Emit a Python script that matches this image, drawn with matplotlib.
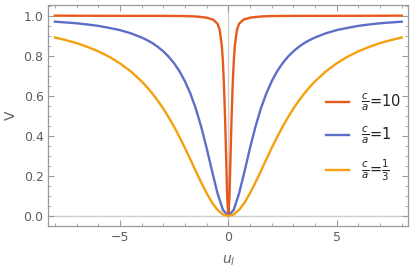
import matplotlib
matplotlib.use('Agg')
import matplotlib.pyplot as plt
from matplotlib.ticker import MultipleLocator

# values
u_grid = [-8, -7.5, -7, -6.5, -6, -5.5, -5, -4.5, -4, -3.75, -3.5, -3.25, -3, -2.75, -2.5, -2.25, -2,
          -1.75, -1.5, -1.25, -1, -0.75, -0.5, -0.25, 0, 0.25, 0.5, 0.75, 1, 1.25, 1.5, 1.75,
          2, 2.25, 2.5, 2.75, 3, 3.25, 3.5, 3.75, 4, 4.5, 5, 5.5, 6, 6.5, 7, 7.5, 8]
v_ca1 = [0.970, 0.966, 0.962, 0.956, 0.949, 0.939, 0.928, 0.912, 0.891, 0.878, 0.863, 0.844, 0.822,
         0.795, 0.762, 0.722, 0.672,
         0.611, 0.536, 0.445, 0.339, 0.224, 0.114, 0.031, 0.0, 0.031, 0.114, 0.224, 0.339, 0.445, 0.536, 0.611,
         0.672, 0.722, 0.762, 0.795, 0.822, 0.844, 0.863, 0.878, 0.891, 0.912, 0.928, 0.939, 0.949, 0.956,
         0.962, 0.966, 0.970]
v_ca13 = [0.891, 0.878, 0.863, 0.844, 0.822, 0.795, 0.762, 0.722, 0.672, 0.643, 0.611, 0.575, 0.536,
          0.492, 0.445, 0.394, 0.339,
          0.282, 0.224, 0.167, 0.114, 0.067, 0.031, 0.008, 0.0, 0.008, 0.031, 0.067, 0.114, 0.167, 0.224, 0.282,
          0.339, 0.394, 0.445, 0.492, 0.536, 0.575, 0.611, 0.643, 0.672, 0.722, 0.762, 0.795, 0.822, 0.844,
          0.863, 0.878, 0.891]

u_red = [-8, -5, -3, -2, -1.5, -1, -0.7, -0.5, -0.4, -0.3, -0.25, -0.2, -0.15, -0.1, -0.05,
         0, 0.05, 0.1, 0.15, 0.2, 0.25, 0.3, 0.4, 0.5, 0.7, 1, 1.5, 2, 3, 5, 8]
v_ca10 = [1.0, 0.999, 0.999, 0.998, 0.996, 0.99, 0.98, 0.96, 0.93, 0.85, 0.77, 0.65, 0.49, 0.29, 0.09,
          0.0, 0.09, 0.29, 0.49, 0.65, 0.77, 0.85, 0.93, 0.96, 0.98, 0.99, 0.996, 0.998, 0.999, 0.999, 1.0]

labels = [r'$\frac{c}{a}$=10', r'$\frac{c}{a}$=1', r'$\frac{c}{a}$=$\frac{1}{3}$']
colors = ['#E65A1C', '#5D6EC7', '#F5A00C']

frame_col = '#9a9a9a'
text_col = '#5f5f5f'

fig = plt.figure(figsize=(4.14, 2.73), dpi=100)
ax = fig.add_axes([0.117, 0.172, 0.869, 0.811])

ax.axhline(0, color='#cfcfcf', lw=1, zorder=0)
ax.axvline(0, color='#cfcfcf', lw=1, zorder=0)

ax.plot(u_red, v_ca10, color=colors[0], lw=1.7, label=labels[0])
ax.plot(u_grid, v_ca1, color=colors[1], lw=1.7, label=labels[1])
ax.plot(u_grid, v_ca13, color=colors[2], lw=1.7, label=labels[2])

ax.set_xlim(-8.3, 8.3)
ax.set_ylim(-0.05, 1.055)

ax.xaxis.set_major_locator(MultipleLocator(5))
ax.xaxis.set_minor_locator(MultipleLocator(1))
ax.yaxis.set_major_locator(MultipleLocator(0.2))
ax.yaxis.set_minor_locator(MultipleLocator(0.05))
ax.yaxis.set_major_formatter(plt.FormatStrFormatter('%.1f'))

ax.tick_params(which='both', direction='in', top=True, right=True, color=frame_col,
               labelcolor=text_col, labelsize=9)
ax.tick_params(which='major', length=4, width=0.8)
ax.tick_params(which='minor', length=2, width=0.6)
for s in ax.spines.values():
    s.set_color(frame_col)
    s.set_linewidth(0.9)

ax.set_xlabel(r'$u_l$', color=text_col, fontsize=10, labelpad=7)
ax.set_ylabel('V', color=text_col, fontsize=10, labelpad=4)

leg = ax.legend(loc='center left', bbox_to_anchor=(0.735, 0.40), frameon=False,
                fontsize=10.5, handlelength=1.6, handletextpad=0.8, labelspacing=0.8)
for t in leg.get_texts():
    t.set_color('#222222')

fig.savefig('out.png', dpi=100)
